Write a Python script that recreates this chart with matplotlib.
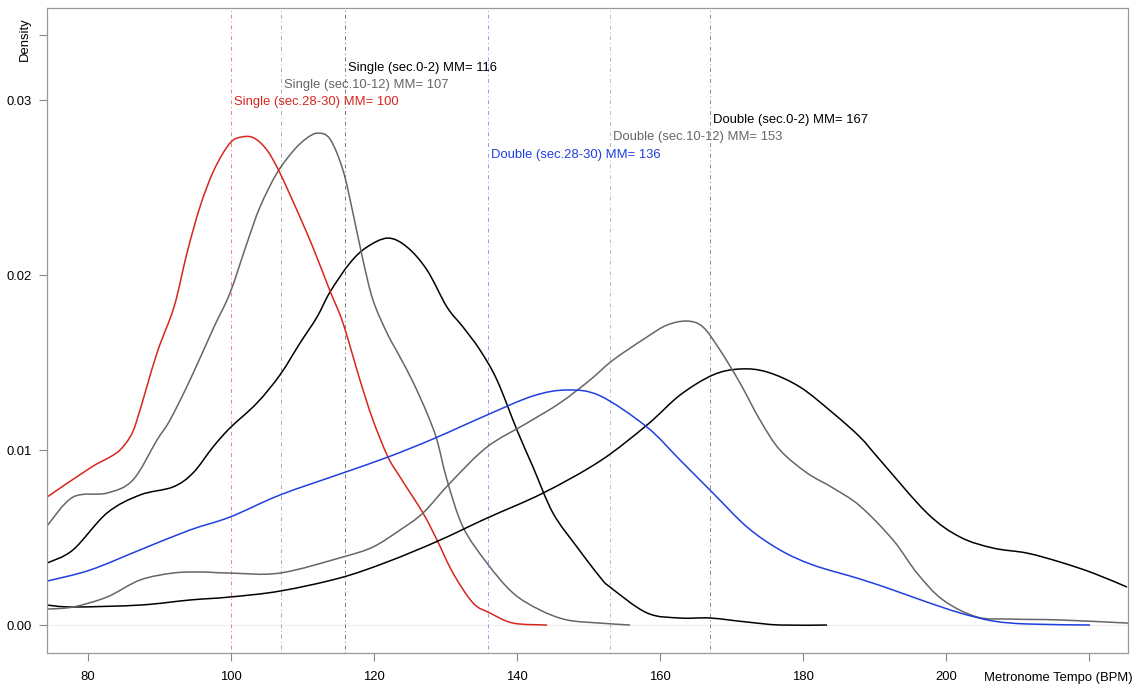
import numpy as np
import matplotlib
matplotlib.use('Agg')
import matplotlib.pyplot as plt
from matplotlib.path import Path
from matplotlib.patches import PathPatch

plt.rcParams['font.family'] = ['Liberation Sans', 'DejaVu Sans']

# density curves (BPM, density)
single_28_x = [74.27, 80.28, 83.08, 84.48, 85.87, 86.85, 89.65, 92.03, 93.85, 95.66, 97.62, 99.86,
               101.54, 103.22, 105.03, 106.85, 109.65, 111.61, 113.85, 115.66, 118.04, 119.86, 121.96,
               123.64, 126.85, 128.81, 131.05, 133.85, 136.22, 139.44, 144.2]
single_28_y = [0.00731, 0.00897, 0.0096, 0.0100, 0.01074, 0.01171, 0.01554, 0.01817, 0.02126, 0.02389,
               0.026, 0.02754, 0.02789, 0.02783, 0.02714, 0.02583, 0.02331, 0.02143, 0.01909, 0.01726,
               0.0140, 0.01171, 0.0096, 0.00846, 0.0064, 0.00486, 0.00297, 0.00126, 0.00069, 0.00011, 0.0]

single_10_x = [74.27, 77.9, 82.66, 86.29, 89.65, 91.47, 94.27, 97.62, 99.86, 102.24, 104.06,
               106.43, 108.81, 110.63, 112.17, 113.85, 115.66, 117.06, 118.46, 119.86, 121.82, 123.64,
               125.45, 127.41, 128.81, 130.21, 132.45, 135.8, 139.44, 143.22, 146.99, 151.61, 155.8]
single_10_y = [0.00566, 0.00731, 0.00754, 0.00829, 0.01057, 0.01171, 0.0140, 0.01703, 0.01897,
               0.02183, 0.02389, 0.02583, 0.02714, 0.02783, 0.02811, 0.02777, 0.026, 0.02354, 0.02086,
               0.01857, 0.01669, 0.01531, 0.01389, 0.01211, 0.01057, 0.00829, 0.0056, 0.00354, 0.00183,
               0.00086, 0.00029, 0.00011, 0.0]

single_0_x = [74.27, 77.9, 82.66, 87.27, 91.89, 94.69, 97.48, 99.86, 103.64, 106.85, 109.65, 112.03,
              113.85, 116.64, 119.02, 121.96, 124.62, 127.41, 130.21, 132.45, 134.83, 137.2, 140.0,
              142.24, 145.03, 148.39, 151.61, 153.01, 158.18, 162.8, 166.99, 172.17, 176.78, 183.36]
single_0_y = [0.00354, 0.00429, 0.0064, 0.00743, 0.00789, 0.00869, 0.01017, 0.01126, 0.01269, 0.01429,
              0.01611, 0.0176, 0.01903, 0.02069, 0.0216, 0.02211, 0.0216, 0.02029, 0.01817, 0.01703,
              0.01571, 0.0140, 0.01114, 0.00903, 0.0064, 0.00446, 0.00274, 0.00217, 0.00069, 0.0004,
              0.0004, 0.00017, 0.0, 0.0]

double_28_x = [74.27, 80.28, 87.27, 94.27, 99.86, 106.85, 115.24, 121.96, 128.25, 135.8, 142.24, 146.99,
               151.61, 158.18, 162.8, 167.41, 172.17, 176.78, 181.4, 187.97, 192.59, 197.34,
               201.96, 206.57, 211.33, 220.14]
double_28_y = [0.00251, 0.00314, 0.00429, 0.00543, 0.00617, 0.00743, 0.00863, 0.0096, 0.01063, 0.012,
               0.01309, 0.01343, 0.0131, 0.01131, 0.00943, 0.00754, 0.0056, 0.00429, 0.00343,
               0.00263, 0.002, 0.00131, 0.00069, 0.00023, 0.00006, 0.0]

double_10_x = [74.27, 77.9, 82.66, 87.27, 91.89, 95.66, 99.86, 106.85, 115.66, 119.86, 123.64, 126.85,
               130.63, 135.8, 141.4, 146.01, 150.21, 153.43, 158.18, 160.98, 163.78, 166.01, 168.39,
               171.19, 173.99, 176.78, 180.56, 184.2, 187.97, 192.59, 195.94, 199.58, 204.34, 208.95,
               215.94, 225.45]
double_10_y = [0.00091, 0.00103, 0.0016, 0.00257, 0.00297, 0.00303, 0.00297, 0.00297, 0.00389, 0.00446,
               0.00543, 0.0064, 0.00811, 0.01017, 0.01154, 0.01269, 0.0140, 0.01514, 0.01646, 0.01714,
               0.01737, 0.01703, 0.01571, 0.01383, 0.01171, 0.0100, 0.00869, 0.00783, 0.0068, 0.00486,
               0.00297, 0.00143, 0.00046, 0.00034, 0.00029, 0.00011]

double_0_x = [74.27, 77.9, 87.27, 94.27, 99.86, 106.85, 115.24, 121.82, 128.95, 135.8, 143.64, 151.61,
              158.18, 162.8, 167.41, 171.19, 174.97, 179.58, 184.2, 187.97, 190.77, 197.34,
              201.96, 206.57, 211.33, 215.94, 220.56, 225.31]
double_0_y = [0.00114, 0.00103, 0.00114, 0.00143, 0.0016, 0.00194, 0.00269, 0.0036, 0.0048, 0.00611,
              0.00754, 0.00937, 0.01143, 0.01314, 0.01429, 0.01463, 0.01446, 0.0136, 0.01211, 0.01074,
              0.00943, 0.0064, 0.00503, 0.0044, 0.00411, 0.0036, 0.00297, 0.00217]

labels = ['Single (sec.0-2)', 'Single (sec.10-12)', 'Single (sec.28-30)',
          'Double (sec.0-2)', 'Double (sec.10-12)', 'Double (sec.28-30)']
mm = [116, 107, 100, 167, 153, 136]
label_y = [0.03183, 0.03086, 0.02989, 0.02886, 0.02789, 0.02686]

red = '#d7261e'
blue = '#1f3fe0'
gray = '#666666'
colors = ['black', gray, red, 'black', gray, blue]
vline_colors = ['#777777', '#aaaaaa', '#f08080', '#888888', '#bbbbbb', '#9999ee']


def smooth_path(x, y):
    # Catmull-Rom through the read points, drawn as cubic Bezier segments
    p = np.column_stack([x, y])
    ext = np.vstack([p[0], p, p[-1]])
    verts = [p[0]]
    codes = [Path.MOVETO]
    for i in range(1, len(ext) - 2):
        p0, p1, p2, p3 = ext[i - 1], ext[i], ext[i + 1], ext[i + 2]
        verts += [p1 + (p2 - p0) / 6, p2 - (p3 - p1) / 6, p2]
        codes += [Path.CURVE4] * 3
    return Path(verts, codes)


fig = plt.figure(figsize=(11.39, 6.84), dpi=100)
ax = fig.add_axes([0.04126, 0.0453, 0.94908, 0.943])

ax.axhline(0, color='#eeeeee', lw=0.8, zorder=0)

curves = [(single_0_x, single_0_y), (single_10_x, single_10_y), (single_28_x, single_28_y),
          (double_0_x, double_0_y), (double_10_x, double_10_y), (double_28_x, double_28_y)]
for (x, y), c in zip(curves, colors):
    ax.add_patch(PathPatch(smooth_path(x, y), facecolor='none', edgecolor=c, lw=1.1,
                           joinstyle='round', zorder=2))

for m, vc in zip(mm, vline_colors):
    ax.axvline(m, color=vc, lw=0.7, linestyle=(0, (1, 3, 4, 3)), zorder=1)

for lab, m, ly, c in zip(labels, mm, label_y, colors):
    ax.text(m + 0.4, ly, f'{lab} MM= {m}', color=c, fontsize=9.4, ha='left', va='center')

ax.set_xlim(74.27, 225.45)
ax.set_ylim(-0.0016, 0.03526)

ax.set_xticks([80, 100, 120, 140, 160, 180, 200, 220])
ax.set_xticklabels(['80', '100', '120', '140', '160', '180', '200', ''])
ax.text(1.0046, -0.038, 'Metronome Tempo (BPM)', fontsize=9.4, ha='right', va='center',
        transform=ax.transAxes)
ax.set_yticks([0.0, 0.01, 0.02, 0.03, 0.0337])
ax.set_yticklabels(['0.00', '0.01', '0.02', '0.03', ''])
ax.text(-0.0205, 0.0335, 'Density', rotation=90, fontsize=9.4, ha='center', va='center',
        transform=ax.get_yaxis_transform())

ax.tick_params(axis='both', colors='#888888', labelcolor='black', labelsize=9.4, length=6, width=0.8)
ax.tick_params(axis='x', pad=7)
ax.tick_params(axis='y', pad=5)
for s in ax.spines.values():
    s.set_color('#999999')
    s.set_linewidth(0.9)

fig.savefig('out.png', dpi=100)
